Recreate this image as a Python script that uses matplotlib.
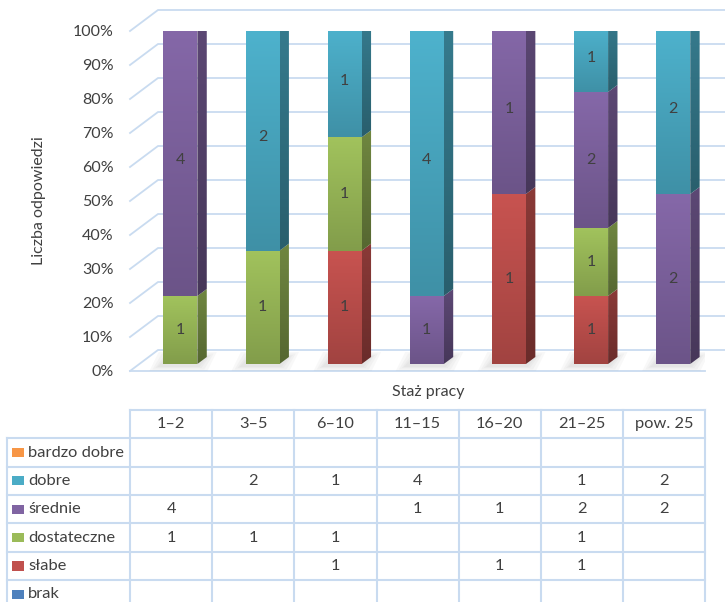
import matplotlib.pyplot as plt
import numpy as np
from matplotlib.patches import Polygon, Rectangle
from matplotlib.colors import to_rgb

plt.rcParams['font.family'] = ['Lato', 'DejaVu Sans']

# dane: liczba odpowiedzi wg stażu pracy
categories = ['1–2', '3–5', '6–10', '11–15', '16–20', '21–25', 'pow. 25']
series_names = ['brak', 'słabe', 'dostateczne', 'średnie', 'dobre', 'bardzo dobre']
brak = [0, 0, 0, 0, 0, 0, 0]
slabe = [0, 0, 1, 0, 1, 1, 0]
dostateczne = [1, 1, 1, 0, 0, 1, 0]
srednie = [4, 0, 0, 1, 1, 2, 2]
dobre = [0, 2, 1, 4, 0, 1, 2]
bardzo_dobre = [0, 0, 0, 0, 0, 0, 0]
colors = ['#4F81BD', '#C0504D', '#9BBB59', '#8064A2', '#4BACC6', '#F79646']
yticks = [0, 10, 20, 30, 40, 50, 60, 70, 80, 90, 100]

W, H = 725, 602
grid_col = '#C9DBF0'
txt_col = '#404040'

fig = plt.figure(figsize=(W / 100, H / 100), dpi=100)
ax = fig.add_axes([130 / W, 1 - 371 / H, 575 / W, 340 / H])

cx = 7 / 575.0      # jednostki kategorii na piksel
cy = 100 / 340.0    # procent na piksel

# przesunięcia "głębi" (pseudo-3D)
wall_dx, wall_dy = 28 * cx, 21 * cy
front_dx, front_dy = 9.3 * cx, 7 * cy
depth_dx, depth_dy = 9.4 * cx, 7 * cy
bar_w = 34 * cx

# siatka: lewa ściana + tylna ściana
for v in yticks:
    ax.plot([-0.5, -0.5 + wall_dx, 7.5], [v, v + wall_dy, v + wall_dy],
            color=grid_col, lw=1.3, clip_on=False, zorder=0)
ax.plot([-0.5, 6.5], [0, 0], color=grid_col, lw=1.3, clip_on=False, zorder=0)


def shade(c, f):
    return tuple(min(1, x * f) for x in to_rgb(c))


def gradient(c, top, bot, n=64):
    f = np.linspace(top, bot, n)
    return np.array([[shade(c, k)] for k in f])


data = np.array([brak, slabe, dostateczne, srednie, dobre, bardzo_dobre], float)
pct = data / data.sum(axis=0) * 100

for i in range(len(categories)):
    xl = i - bar_w / 2 + front_dx
    xr = xl + bar_w
    z = 2 + i * 0.1
    # miękki cień przy podstawie
    for e in [10, 7, 4, 2]:
        ex, ey = e * cx, e * cy * 0.5
        sh = Polygon([(xl - ex - 4 * cx, front_dy - ey - 2 * cy), (xr + ex, front_dy - ey - 2 * cy),
                      (xr + depth_dx + ex, front_dy + depth_dy + ey),
                      (xl + depth_dx - ex - 4 * cx, front_dy + depth_dy + ey)],
                     closed=True, fc='#7F7F7F', ec='none', alpha=0.05, zorder=1)
        ax.add_patch(sh)
    bottom = 0
    nonzero = [k for k in range(len(series_names)) if pct[k, i] > 0]
    for k in nonzero:
        h = pct[k, i]
        c = colors[k]
        y0 = bottom + front_dy
        y1 = bottom + h + front_dy
        # przednia ściana
        ax.imshow(gradient(c, 1.04, 0.84), extent=(xl, xr, y0, y1), aspect='auto',
                  origin='upper', interpolation='bilinear', zorder=z)
        # boczna ściana
        side = Polygon([(xr, y0), (xr + depth_dx, y0 + depth_dy),
                        (xr + depth_dx, y1 + depth_dy), (xr, y1)],
                       closed=True, fc='none', ec='none', transform=ax.transData)
        ax.add_patch(side)
        im = ax.imshow(gradient(c, 0.72, 0.55), extent=(xr, xr + depth_dx, y0, y1 + depth_dy),
                       aspect='auto', origin='upper', interpolation='bilinear', zorder=z + 0.01)
        im.set_clip_path(side)
        if k == nonzero[-1]:
            top = Polygon([(xl, y1), (xl + depth_dx, y1 + depth_dy),
                           (xr + depth_dx, y1 + depth_dy), (xr, y1)],
                          closed=True, fc=shade(c, 0.78), ec='none', zorder=z + 0.02)
            ax.add_patch(top)
        ax.text((xl + xr) / 2, (y0 + y1) / 2, str(int(data[k, i])), ha='center', va='center',
                fontsize=11.5, color=txt_col, zorder=z + 0.03)
        bottom += h

ax.set_xlim(-0.5, 6.5)
ax.set_ylim(0, 100)
ax.set_yticks(yticks)
ax.set_yticklabels([f'{v}%' for v in yticks], fontsize=11.5, color=txt_col)
ax.set_xticks([])
ax.tick_params(axis='y', length=0, pad=12)
for s in ax.spines.values():
    s.set_visible(False)
ax.patch.set_alpha(0)

fig.text(39 / W, 1 - 201 / H, 'Liczba odpowiedzi', rotation=90, ha='center', va='center',
         fontsize=11.5, color=txt_col)
fig.text(428 / W, 1 - 392 / H, 'Staż pracy', ha='center', va='center',
         fontsize=11.5, color=txt_col)

# tabela danych pod wykresem
n = len(categories)
rows = len(series_names) + 1
tax = fig.add_axes([7 / W, 1 - 608.5 / H, 698 / W, 198.5 / H])
tax.set_xlim(-2.0, n - 0.5)
tax.set_ylim(rows, 0)
tax.axis('off')

tax.plot([-0.5, n - 0.5], [0, 0], color=grid_col, lw=1.5, clip_on=False)
for r in range(1, rows + 1):
    tax.plot([-2.0, n - 0.5], [r, r], color=grid_col, lw=1.5, clip_on=False)
tax.plot([-2.0, -2.0], [1, rows], color=grid_col, lw=1.5, clip_on=False)
for j in range(n + 1):
    tax.plot([j - 0.5, j - 0.5], [0, rows], color=grid_col, lw=1.5, clip_on=False)

for j, lab in enumerate(categories):
    tax.text(j, 0.5, lab, ha='center', va='center', fontsize=11.8, color=txt_col)

for r, k in enumerate(reversed(range(len(series_names)))):
    yc = r + 1.5
    tax.add_patch(Rectangle((-2.0 + 5 * cx, yc - 0.16), 12 * cx, 0.32,
                            fc=colors[k], ec='none'))
    tax.text(-2.0 + 21 * cx, yc, series_names[k], ha='left', va='center',
             fontsize=11.8, color=txt_col)
    for j in range(n):
        if data[k, j] > 0:
            tax.text(j, yc, str(int(data[k, j])), ha='center', va='center',
                     fontsize=11.8, color=txt_col)

fig.savefig('out.png', dpi=100)
